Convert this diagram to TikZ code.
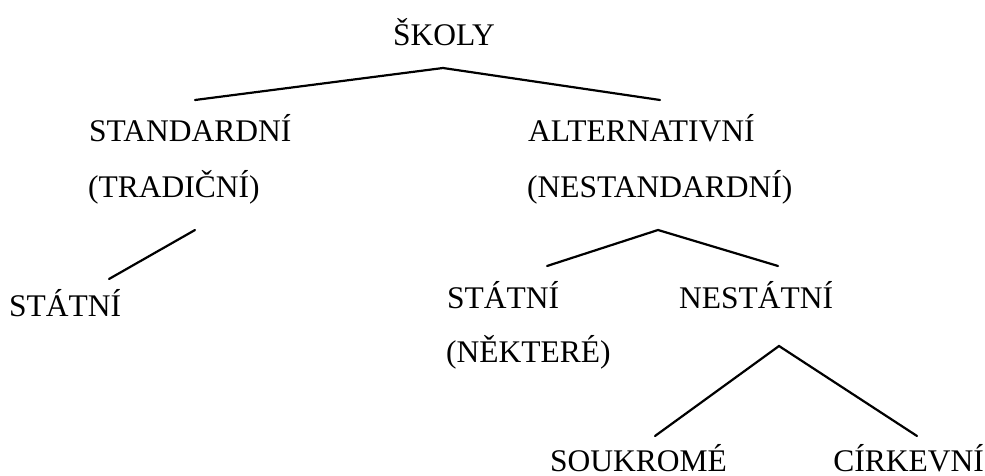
\documentclass[tikz,border=0pt]{standalone}
\usepackage{fontspec}
\setmainfont{Liberation Serif}
\begin{document}
\begin{tikzpicture}[x=1pt,y=-1pt,
  lbl/.style={anchor=base west,inner sep=0pt,font=\fontsize{31.5}{38}\selectfont},
  edge/.style={line width=2.2pt,line cap=round,line join=miter}]
\useasboundingbox (0,0) rectangle (985,476);
% texts
\node[lbl,anchor=base] (skoly) at (444,46) {ŠKOLY};
\node[lbl] (std) at (89,142) {STANDARDNÍ};
\node[lbl] (trad) at (88,197) {(TRADIČNÍ)};
\node[lbl] (alt) at (528,142) {ALTERNATIVNÍ};
\node[lbl] (nestd) at (527,197) {(NESTANDARDNÍ)};
\node[lbl] (stat1) at (9,316) {STÁTNÍ};
\node[lbl] (stat2) at (447,308) {STÁTNÍ};
\node[lbl] (nestat) at (679,308) {NESTÁTNÍ};
\node[lbl] (nekt) at (446,362) {(NĚKTERÉ)};
\node[lbl,anchor=base east] (souk) at (727,471) {SOUKROMÉ};
\node[lbl,anchor=base east] (cirk) at (984,471) {CÍRKEVNÍ};
% connector points
\coordinate (t1) at (443,68);
\coordinate (t1l) at (195,100);
\coordinate (t1r) at (660,100);
\coordinate (t2a) at (195,230);
\coordinate (t2b) at (109,279);
\coordinate (t3) at (658,230);
\coordinate (t3l) at (547,266);
\coordinate (t3r) at (778,266);
\coordinate (t4) at (779,346);
\coordinate (t4l) at (655,436);
\coordinate (t4r) at (917,436);
% connectors
\draw[edge] (t1l) -- (t1) -- (t1r);
\draw[edge] (t2a) -- (t2b);
\draw[edge] (t3l) -- (t3) -- (t3r);
\draw[edge] (t4l) -- (t4) -- (t4r);
\end{tikzpicture}
\end{document}
